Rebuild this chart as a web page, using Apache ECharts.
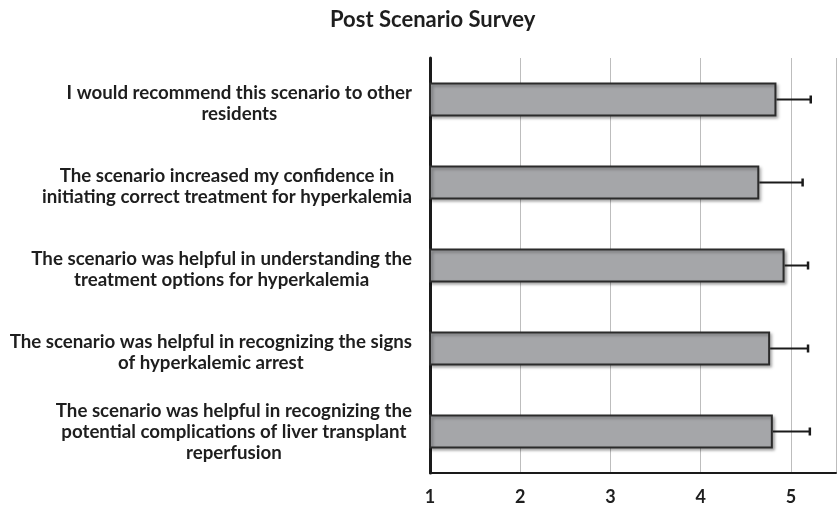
<!DOCTYPE html>
<html>
<head>
<meta charset="utf-8">
<script src="https://cdn.jsdelivr.net/npm/echarts@6/dist/echarts.min.js"></script>
<style>
  html, body { margin: 0; padding: 0; background: #fff; }
  #chart { width: 839px; height: 511px; }
</style>
</head>
<body>
<div id="chart"></div>
<script>
  // survey statements (top to bottom)
  const questions = [
    'I would recommend this scenario to other\nresidents',
    'The scenario increased my confidence in\ninitiating correct treatment for hyperkalemia',
    'The scenario was helpful in understanding the\ntreatment options for hyperkalemia',
    'The scenario was helpful in recognizing the signs\nof hyperkalemic arrest',
    'The scenario was helpful in recognizing the\npotential complications of liver transplant\nreperfusion'
  ];
  // mean score and error (upper bar only)
  const means = [4.84, 4.65, 4.93, 4.77, 4.80];
  const errors = [0.38, 0.48, 0.26, 0.42, 0.41];
  const tickValues = [1, 2, 3, 4, 5];

  const chart = echarts.init(document.getElementById('chart'));
  const font = 'Lato, "Open Sans", sans-serif';

  // two-line labels sit a little lower than the bar centre
  const yData = questions.map(q => ({
    value: q,
    textStyle: { padding: q.split('\n').length === 2 ? [8, 0, 0, 0] : 0 }
  }));

  const option = {
    animation: false,
    title: {
      text: 'Post Scenario Survey',
      left: 325,
      top: 4,
      textStyle: { fontFamily: font, fontWeight: 'bold', fontSize: 22, color: '#1e1e1e' }
    },
    grid: { left: 430, top: 58, width: 411, height: 415 },
    xAxis: {
      type: 'value',
      min: 1,
      max: 5.5,
      interval: 1,
      axisLine: { show: true, lineStyle: { color: '#1a1a1a', width: 2 } },
      axisTick: { show: false },
      splitLine: { show: true, lineStyle: { color: '#bdbdbd', width: 1 } },
      axisLabel: {
        margin: 15,
        fontFamily: font,
        fontWeight: 'bold',
        fontSize: 18,
        color: '#1e1e1e',
        formatter: v => (tickValues.indexOf(v) >= 0 ? String(v) : '')
      }
    },
    yAxis: {
      type: 'category',
      inverse: true,
      data: yData,
      axisLine: { show: true, lineStyle: { color: '#1a1a1a', width: 3 } },
      axisTick: { show: false },
      axisLabel: {
        margin: 18,
        align: 'right',
        formatter: v => v.split('\n').map(s => '{c|' + s + '}').join('\n'),
        rich: {
          c: {
            align: 'center',
            fontFamily: font,
            fontWeight: 'bold',
            fontSize: 18.7,
            lineHeight: 21,
            color: '#1e1e1e'
          }
        }
      }
    },
    series: [
      {
        type: 'bar',
        data: means,
        barWidth: 34,
        itemStyle: {
          color: '#a5a6a9',
          borderColor: '#2b2b2b',
          borderWidth: 2,
          shadowColor: 'rgba(0,0,0,0.3)',
          shadowBlur: 3,
          shadowOffsetX: 2,
          shadowOffsetY: 2
        },
        z: 2
      },
      {
        type: 'custom',
        data: means.map((m, i) => [i, m, m + errors[i]]),
        renderItem: (params, api) => {
          const i = api.value(0);
          const start = api.coord([api.value(1), i]);
          const end = api.coord([api.value(2), i]);
          const cap = 4;
          return {
            type: 'group',
            children: [
              {
                type: 'line',
                shape: { x1: start[0], y1: start[1], x2: end[0], y2: end[1] },
                style: { stroke: '#1a1a1a', lineWidth: 2 }
              },
              {
                type: 'line',
                shape: { x1: end[0], y1: end[1] - cap, x2: end[0], y2: end[1] + cap },
                style: { stroke: '#1a1a1a', lineWidth: 2.5 }
              }
            ]
          };
        },
        z: 3
      }
    ]
  };

  chart.setOption(option);
</script>
</body>
</html>
